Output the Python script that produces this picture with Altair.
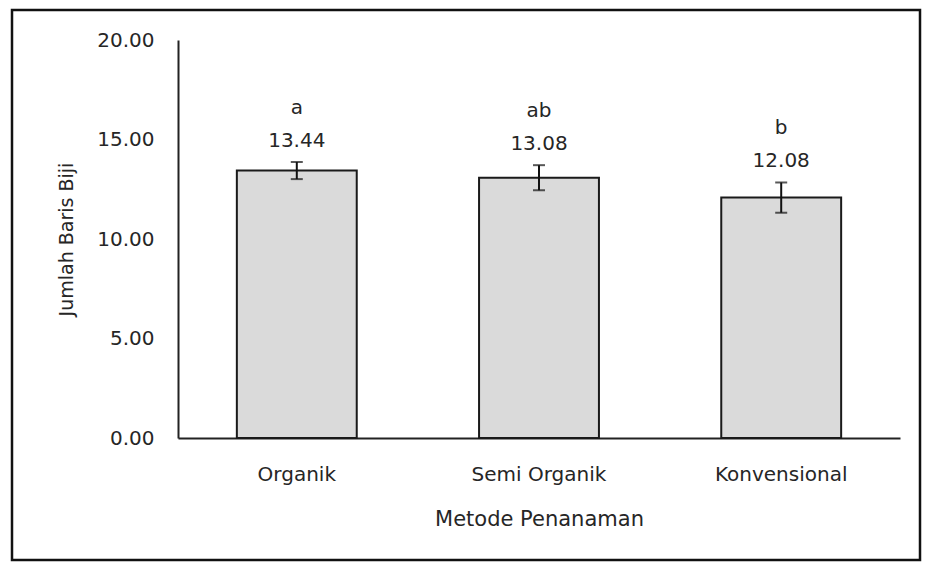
import altair as alt
import pandas as pd

categories = ["Organik", "Semi Organik", "Konvensional"]
values = [13.44, 13.08, 12.08]
errors = [0.43, 0.63, 0.76]
letters = ["a", "ab", "b"]
value_labels = ["13.44", "13.08", "12.08"]

df = pd.DataFrame({
    "Metode": categories,
    "Nilai": values,
    "err": errors,
    "huruf": letters,
    "label": value_labels,
})
df["lo"] = df["Nilai"] - df["err"]
df["hi"] = df["Nilai"] + df["err"]

FONT = "DejaVu Sans"
TXT = "#262626"
FS = 20

x = alt.X(
    "Metode:N", sort=categories, title="Metode Penanaman",
    scale=alt.Scale(paddingInner=0.505, paddingOuter=0.243),
    axis=alt.Axis(labelAngle=0, labelFontSize=FS, labelFont=FONT, labelColor=TXT,
                  labelPadding=26, titleFontSize=21, titleFont=FONT, titleColor=TXT,
                  titleFontWeight="normal", titlePadding=24, ticks=False,
                  domainColor="#222222", domainWidth=2),
)
y_scale = alt.Scale(domain=[0, 20], nice=False)

base = alt.Chart(df)

bars = base.mark_bar(fill="#dadada", stroke="#1a1a1a", strokeWidth=2).encode(
    x=x,
    y=alt.Y("Nilai:Q", scale=y_scale, title="Jumlah Baris Biji",
            axis=alt.Axis(values=[0, 5, 10, 15, 20], format=".2f", grid=False, ticks=False,
                          labelFontSize=FS, labelFont=FONT, labelColor=TXT, labelPadding=24,
                          titleFontSize=19, titleFont=FONT, titleColor=TXT,
                          titleFontWeight="normal", titlePadding=20,
                          domainColor="#222222", domainWidth=2)),
)

rule = base.mark_rule(color="#111111", strokeWidth=2).encode(
    x=alt.X("Metode:N", sort=categories),
    y=alt.Y("lo:Q", scale=y_scale),
    y2="hi:Q",
)
cap_hi = base.mark_tick(color="#111111", thickness=2, size=12, orient="horizontal").encode(
    x=alt.X("Metode:N", sort=categories),
    y=alt.Y("hi:Q", scale=y_scale),
)
cap_lo = base.mark_tick(color="#111111", thickness=2, size=12, orient="horizontal").encode(
    x=alt.X("Metode:N", sort=categories),
    y=alt.Y("lo:Q", scale=y_scale),
)
val_text = base.mark_text(font=FONT, fontSize=FS, color=TXT, baseline="middle", dy=-21).encode(
    x=alt.X("Metode:N", sort=categories),
    y=alt.Y("hi:Q", scale=y_scale),
    text="label:N",
)
let_text = base.mark_text(font=FONT, fontSize=FS, color=TXT, baseline="middle", dy=-54).encode(
    x=alt.X("Metode:N", sort=categories),
    y=alt.Y("hi:Q", scale=y_scale),
    text="huruf:N",
)

border = alt.Chart(pd.DataFrame({"k": [0]})).mark_rect(
    fill=None, fillOpacity=0, stroke="#111111", strokeWidth=2.5, clip=False
).encode(
    x=alt.value(-166), x2=alt.value(742), y=alt.value(-30), y2=alt.value(520)
)

chart = alt.layer(border, bars, rule, cap_hi, cap_lo, val_text, let_text).properties(
    width=722, height=398,
    background="white",
    autosize=alt.AutoSizeParams(type="none"),
    padding={"left": 170, "top": 32, "right": 22, "bottom": 124},
).configure_view(strokeWidth=0, stroke=None)

chart.save("out.html", embed_options={"renderer": "svg", "actions": False})
